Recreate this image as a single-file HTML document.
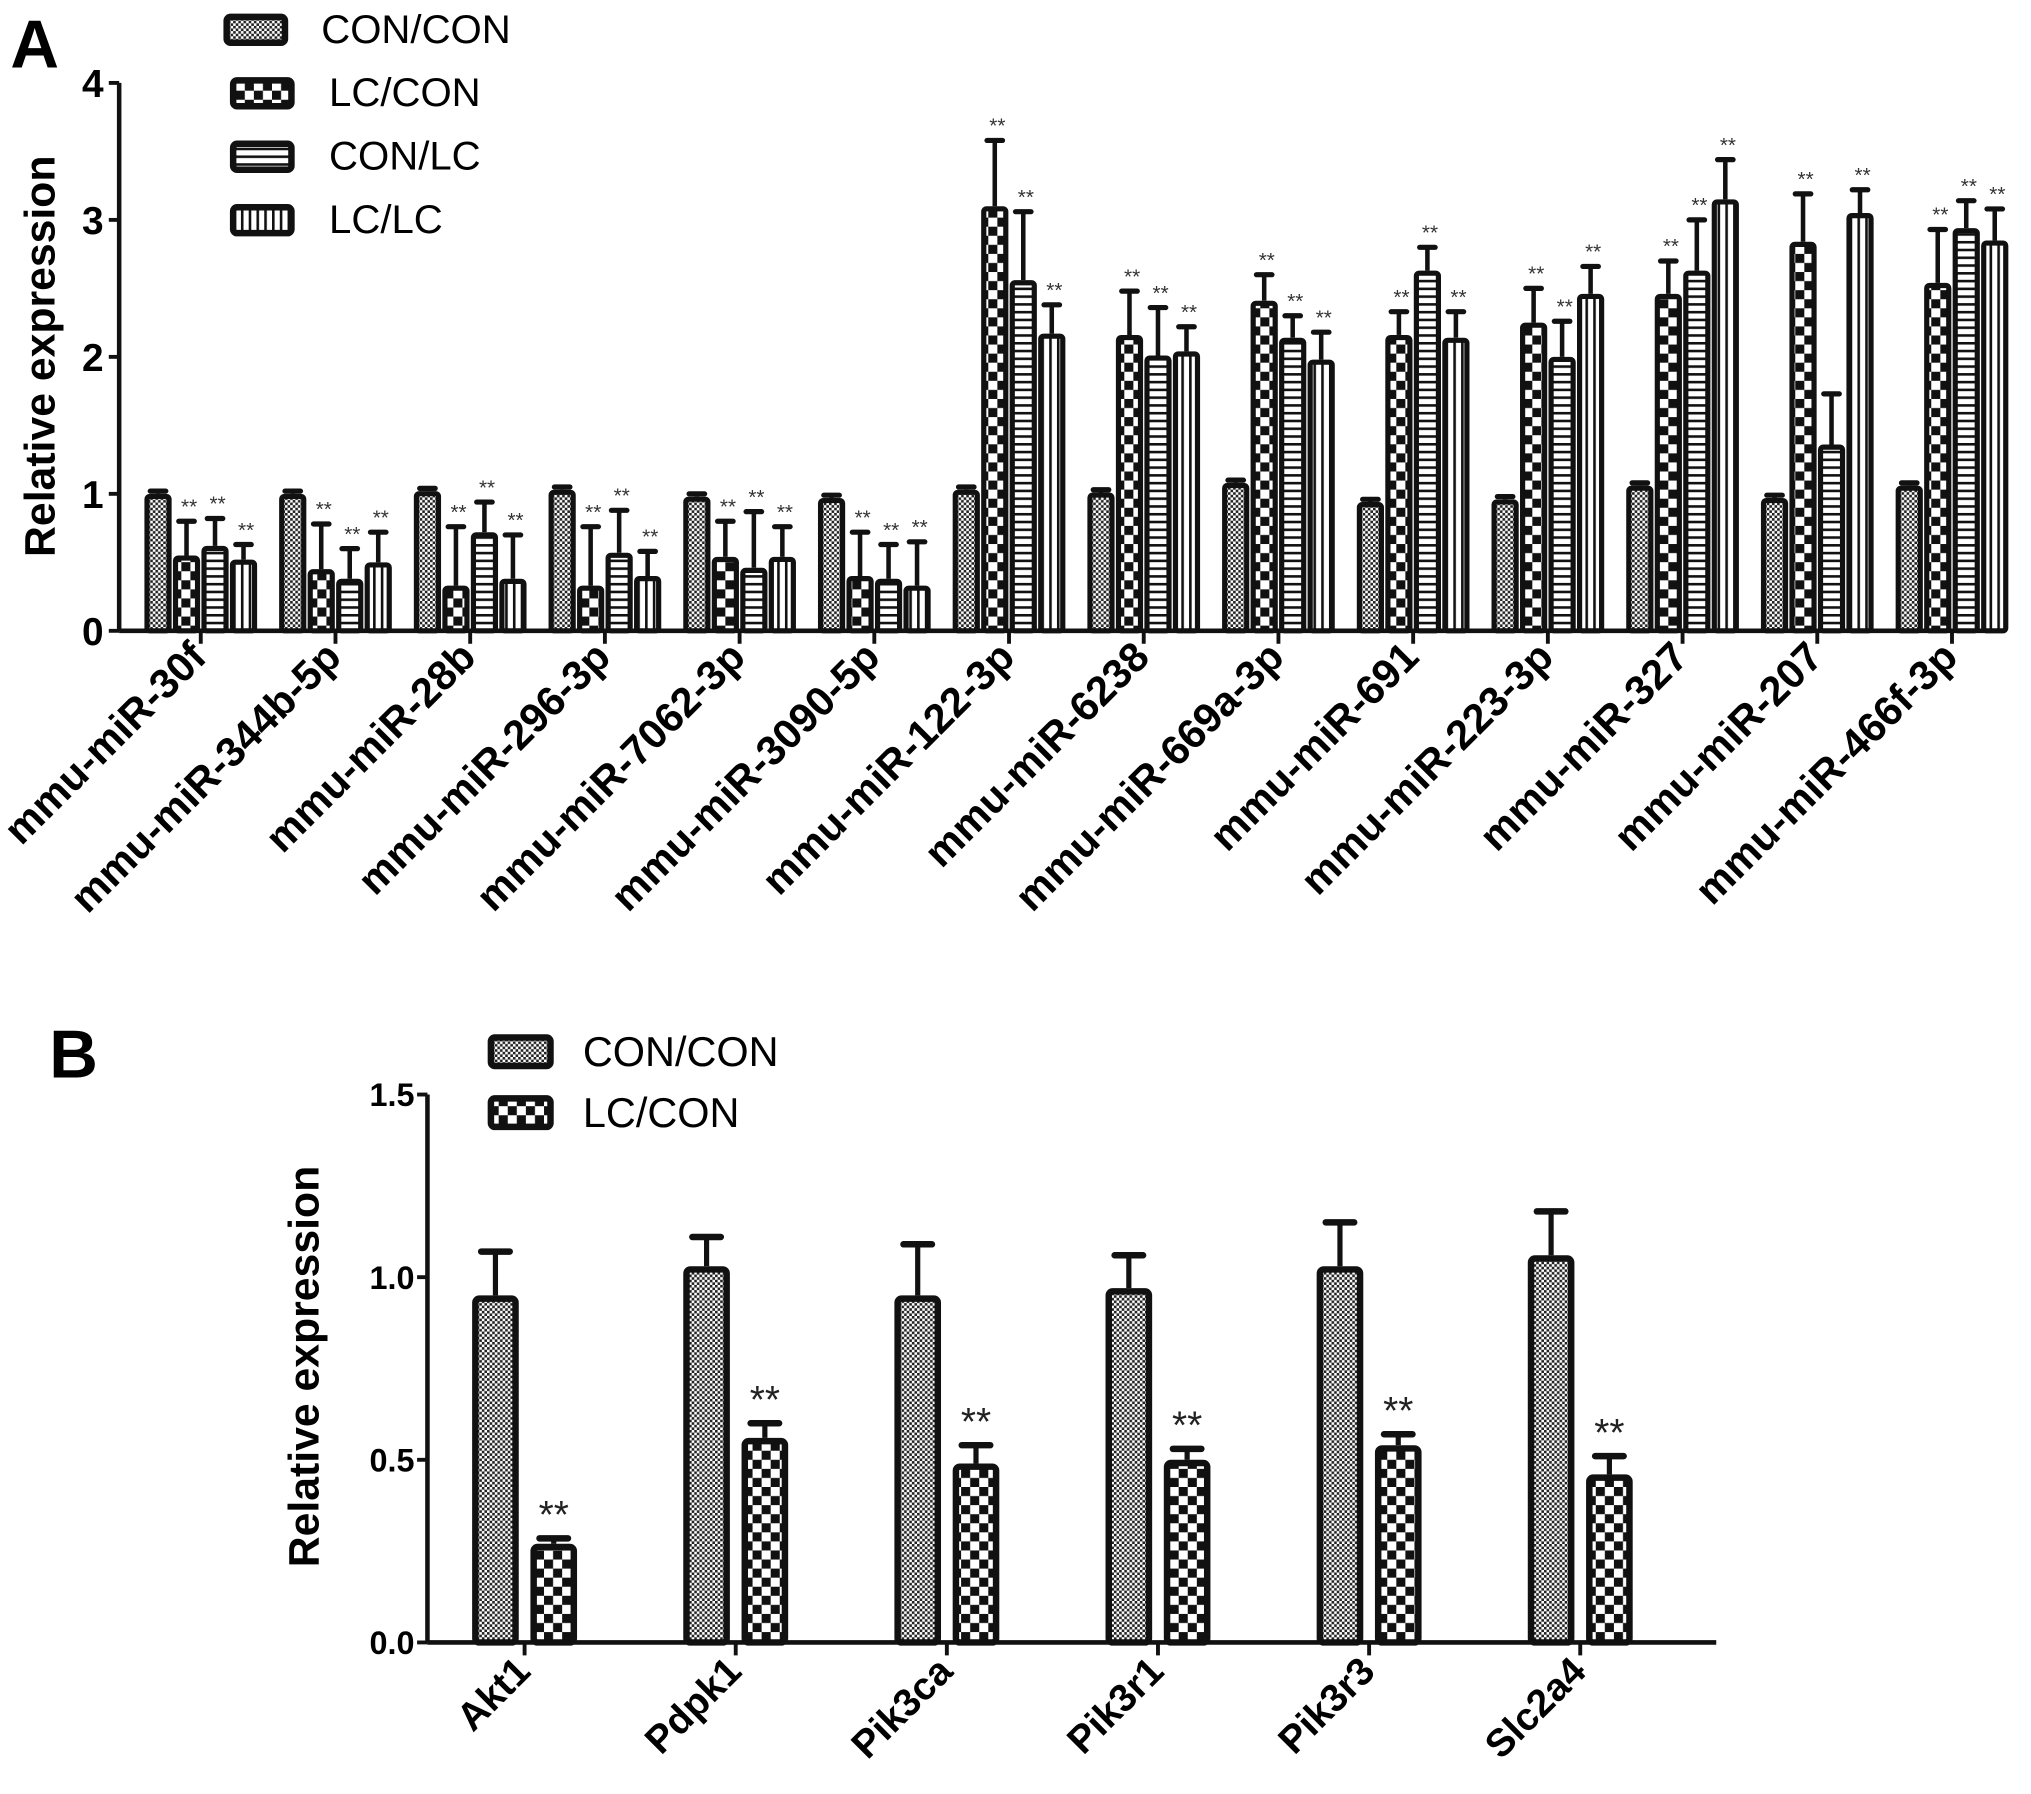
<!DOCTYPE html>
<html><head><meta charset="utf-8"><style>
html,body{margin:0;padding:0;background:#fff;}
svg{display:block;}
text{font-family:"Liberation Sans",Arial,sans-serif;}
</style></head><body>
<svg id="fig" width="2031" height="1794" viewBox="0 0 1568 1385" xmlns="http://www.w3.org/2000/svg">
<defs>
<pattern id="p0" width="4" height="4" patternUnits="userSpaceOnUse"><rect width="4" height="4" fill="#fff"/><rect width="2" height="2" fill="#222"/><rect x="2" y="2" width="2" height="2" fill="#222"/></pattern>
<pattern id="p1" width="14" height="14" patternUnits="userSpaceOnUse"><rect width="14" height="14" fill="#fff"/><rect width="7" height="7" fill="#111"/><rect x="7" y="7" width="7" height="7" fill="#111"/></pattern>
<pattern id="p2" width="6" height="6" patternUnits="userSpaceOnUse"><rect width="6" height="6" fill="#fff"/><rect width="6" height="2" fill="#111"/></pattern>
<pattern id="p3" width="6" height="6" patternUnits="userSpaceOnUse"><rect width="6" height="6" fill="#fff"/><rect width="2" height="6" fill="#111"/></pattern>
</defs>
<text x="8" y="52" font-size="52" font-weight="bold">A</text>
<text x="38" y="832" font-size="52" font-weight="bold">B</text>
<text transform="translate(42,275) rotate(-90)" text-anchor="middle" font-size="33" font-weight="bold">Relative expression</text>
<text transform="translate(246,1055) rotate(-90)" text-anchor="middle" font-size="33" font-weight="bold">Relative expression</text>
<g id="ga"></g><g id="gb"></g>
</svg>
<script>
const catsA=["mmu-miR-30f","mmu-miR-344b-5p","mmu-miR-28b","mmu-miR-296-3p","mmu-miR-7062-3p","mmu-miR-3090-5p","mmu-miR-122-3p","mmu-miR-6238","mmu-miR-669a-3p","mmu-miR-691","mmu-miR-223-3p","mmu-miR-327","mmu-miR-207","mmu-miR-466f-3p"];
const seriesA=["CON/CON","LC/CON","CON/LC","LC/LC"];
const conconA=[1.0,1.0,1.02,1.03,0.98,0.97,1.03,1.01,1.08,0.94,0.96,1.06,0.97,1.06];
const conconErrA=[0.02,0.02,0.02,0.02,0.02,0.02,0.02,0.02,0.02,0.02,0.02,0.02,0.02,0.02];
const lcconA=[0.55,0.45,0.33,0.33,0.54,0.40,3.10,2.16,2.41,2.16,2.25,2.46,2.84,2.54];
const lcconErrA=[0.25,0.33,0.43,0.43,0.26,0.32,0.48,0.32,0.19,0.17,0.25,0.24,0.35,0.39];
const conlcA=[0.62,0.38,0.72,0.57,0.46,0.38,2.56,2.01,2.14,2.63,2.00,2.63,1.36,2.94];
const conlcErrA=[0.20,0.22,0.22,0.31,0.41,0.25,0.50,0.35,0.16,0.17,0.26,0.37,0.37,0.20];
const lclcA=[0.52,0.50,0.38,0.40,0.54,0.33,2.17,2.04,1.98,2.14,2.46,3.15,3.05,2.85];
const lclcErrA=[0.11,0.22,0.32,0.18,0.22,0.32,0.21,0.18,0.20,0.19,0.20,0.29,0.17,0.23];
const sigA=[[0,1,1,1],[0,1,1,1],[0,1,1,1],[0,1,1,1],[0,1,1,1],[0,1,1,1],[0,1,1,1],[0,1,1,1],[0,1,1,1],[0,1,1,1],[0,1,1,1],[0,1,1,1],[0,1,0,1],[0,1,1,1]];
const ticksA=[0,1,2,3,4];

const catsB=["Akt1","Pdpk1","Pik3ca","Pik3r1","Pik3r3","Slc2a4"];
const seriesB=["CON/CON","LC/CON"];
const conconB=[0.95,1.03,0.95,0.97,1.03,1.06];
const conconErrB=[0.12,0.08,0.14,0.09,0.12,0.12];
const lcconB=[0.27,0.56,0.49,0.50,0.54,0.46];
const lcconErrB=[0.015,0.04,0.05,0.03,0.03,0.05];
const ticksB=[0,0.5,1.0,1.5];
const tickLabB=["0.0","0.5","1.0","1.5"];

const NS="http://www.w3.org/2000/svg";
function mk(p,tag,at,txt){const e=document.createElementNS(NS,tag);for(const k in at)e.setAttribute(k,at[k]);if(txt!==undefined)e.textContent=txt;p.appendChild(e);return e;}

// Panel A
(function(){
const g=document.getElementById('ga');
const x0=92,x1=1548,yb=487,yt=64,vmax=4;
const y=v=>yb-(yb-yt)*v/vmax;
const pitch=104,c0=155,bw=21,bg=1;
const xc=i=>c0+i*pitch;
const vals=[conconA,lcconA,conlcA,lclcA],errs=[conconErrA,lcconErrA,conlcErrA,lclcErrA];
catsA.forEach((c,i)=>{
 for(let s=0;s<4;s++){
  const bx=xc(i)-2*(bw+bg)+s*(bw+bg)+bg/2;
  const v=vals[s][i],e=errs[s][i];
  const cx=bx+bw/2;
  let el=mk(g,'line',{x1:cx,x2:cx,y1:y(v),y2:y(v+e),stroke:'#111','stroke-width':3.5});
  
  el=mk(g,'line',{x1:cx-6,x2:cx+6,y1:y(v+e),y2:y(v+e),stroke:'#111','stroke-width':4,'stroke-linecap':'round'});
  
  el=mk(g,'rect',{x:bx+2,y:y(v)+2,width:bw-4,height:Math.max(0,yb-y(v)-2),fill:'url(#p'+s+')',stroke:'#111','stroke-width':4,rx:2});
  
  if(sigA[i][s]){el=mk(g,'text',{x:cx+2,y:y(v+e)-6,'text-anchor':'middle','font-size':16,fill:'#333'},'**');
  }
 }
 let t=mk(g,'line',{x1:xc(i),x2:xc(i),y1:yb,y2:yb+10,stroke:'#111','stroke-width':3});
 
 t=mk(g,'text',{transform:`translate(${xc(i)+6},${yb+22}) rotate(-45)`,'text-anchor':'end','font-size':32,'font-weight':'bold'},c);
 
});
let a=mk(g,'line',{x1:x0,x2:x0,y1:yt,y2:yb,stroke:'#111','stroke-width':3.5});

a=mk(g,'line',{x1:x0,x2:x1,y1:yb,y2:yb,stroke:'#111','stroke-width':3.5});

ticksA.forEach(v=>{
 let t=mk(g,'line',{x1:x0-8,x2:x0,y1:y(v),y2:y(v),stroke:'#111','stroke-width':3});
 
 t=mk(g,'text',{x:x0-12,y:y(v)+11,'text-anchor':'end','font-size':30,'font-weight':'bold'},String(v));
 
});
seriesA.forEach((s,k)=>{
 const ly=22+k*49;const lx=k==0?175:180;
 let r=mk(g,'rect',{x:lx,y:ly-9,width:45,height:20,fill:'url(#p'+k+')',stroke:'#111','stroke-width':5,rx:3});
 
 r=mk(g,'text',{x:k==0?248:254,y:ly+11,'font-size':31},s);
 
});
})();

// Panel B
(function(){
const g=document.getElementById('gb');
const x0=330,x1=1325,yb=1268,yt=845,vmax=1.5;
const y=v=>yb-(yb-yt)*v/vmax;
const pitch=163,c0=405,bw=36,bg=9;
const xc=i=>c0+i*pitch;
const vals=[conconB,lcconB],errs=[conconErrB,lcconErrB];
catsB.forEach((c,i)=>{
 for(let s=0;s<2;s++){
  const bx=xc(i)-bw-bg/2+s*(bw+bg);
  const v=vals[s][i],e=errs[s][i];const cx=bx+bw/2;
  let el=mk(g,'line',{x1:cx,x2:cx,y1:y(v),y2:y(v+e),stroke:'#111','stroke-width':4});
  
  el=mk(g,'line',{x1:cx-11,x2:cx+11,y1:y(v+e),y2:y(v+e),stroke:'#111','stroke-width':5,'stroke-linecap':'round'});
  
  el=mk(g,'rect',{x:bx+2.5,y:y(v)+2.5,width:bw-5,height:yb-y(v)-2.5,fill:'url(#p'+s+')',stroke:'#111','stroke-width':5,rx:3});
  
  if(s==1){el=mk(g,'text',{x:cx,y:y(v+e)-8,'text-anchor':'middle','font-size':30,fill:'#222'},'**');
  }
 }
 let t=mk(g,'line',{x1:xc(i),x2:xc(i),y1:yb,y2:yb+10,stroke:'#111','stroke-width':3});
 
 t=mk(g,'text',{transform:`translate(${xc(i)+6},${yb+24}) rotate(-45)`,'text-anchor':'end','font-size':30,'font-weight':'bold'},c);
 
});
let a=mk(g,'line',{x1:x0,x2:x0,y1:yt,y2:yb,stroke:'#111','stroke-width':3.5});

a=mk(g,'line',{x1:x0,x2:x1,y1:yb,y2:yb,stroke:'#111','stroke-width':3.5});

ticksB.forEach((v,k)=>{
 let t=mk(g,'line',{x1:x0-8,x2:x0,y1:y(v),y2:y(v),stroke:'#111','stroke-width':3});
 
 t=mk(g,'text',{x:x0-10,y:y(v)+9,'text-anchor':'end','font-size':25,'font-weight':'bold'},tickLabB[k]);
 
});
seriesB.forEach((s,k)=>{
 const ly=811+k*47;
 let r=mk(g,'rect',{x:379,y:ly-10,width:46,height:22,fill:'url(#p'+k+')',stroke:'#111','stroke-width':5,rx:3});
 
 r=mk(g,'text',{x:450,y:ly+12,'font-size':32},s);
 
});
})();
</script>
</body></html>
